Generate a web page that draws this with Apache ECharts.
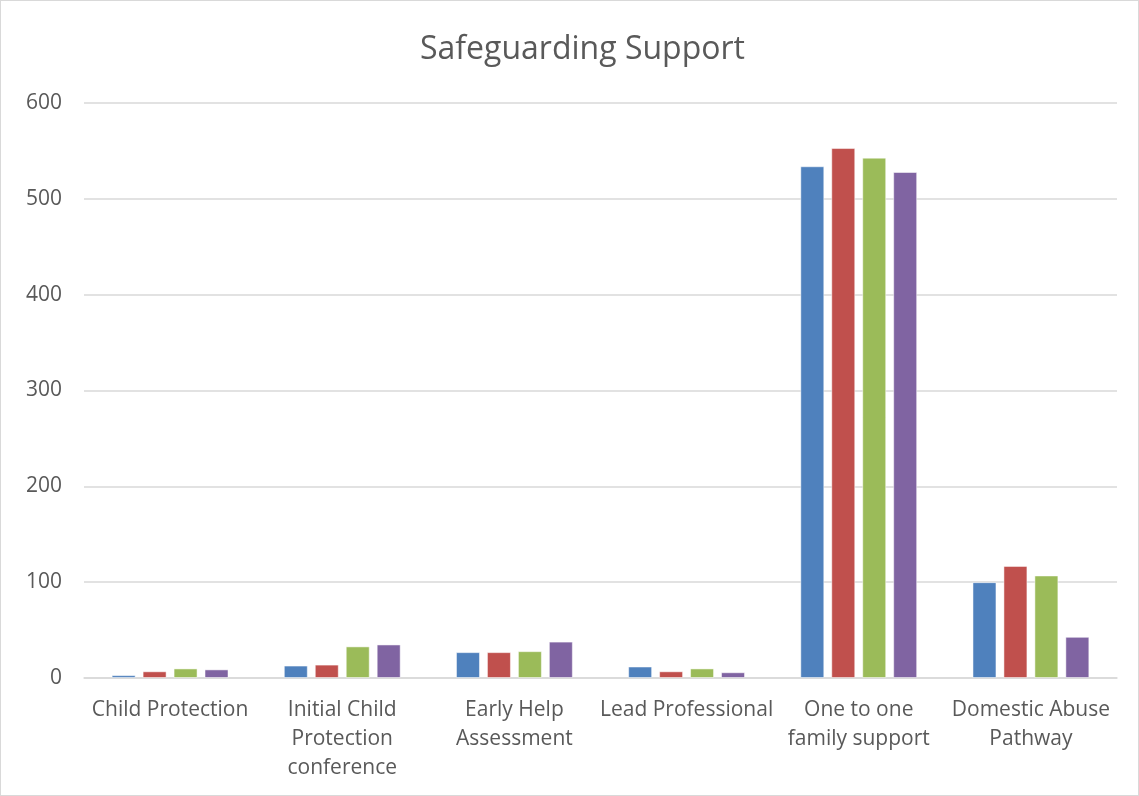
<!DOCTYPE html>
<html><head><meta charset="utf-8">
<script src="https://cdn.jsdelivr.net/npm/echarts@6/dist/echarts.min.js"></script>
<style>html,body{margin:0;padding:0;background:#fff;}#c{width:1137px;height:794px;border:1px solid #d9d9d9;}</style>
</head><body><div id="c"></div>
<script>
const categories = ["Child Protection","Initial Child\nProtection\nconference","Early Help\nAssessment","Lead Professional","One to one\nfamily support","Domestic Abuse\nPathway"];
const series1 = [3, 13, 27, 12, 534, 100];
const series2 = [7, 14, 27, 7, 553, 117];
const series3 = [10, 33, 28, 10, 543, 107];
const series4 = [9, 35, 38, 6, 528, 43];
const seriesNames = ["Series1","Series2","Series3","Series4"];
const colors = ["#4F81BD","#C0504D","#9BBB59","#8064A2"];
const chart = echarts.init(document.getElementById('c'));
const data = [series1, series2, series3, series4];
chart.setOption({
  animation:false,
  title:{text:"Safeguarding Support",left:414,top:28,textStyle:{fontFamily:'Open Sans, Calibri, sans-serif',fontSize:32,fontWeight:'normal',color:'#595959'}},
  grid:{left:83,right:21,top:102,bottom:117},
  xAxis:{type:'category',data:categories,axisTick:{show:false},
    axisLine:{lineStyle:{color:'#d9d9d9',width:1.5}},
    axisLabel:{interval:0,fontFamily:'Open Sans, Calibri, sans-serif',fontSize:21,color:'#595959',lineHeight:29,margin:18}},
  yAxis:{type:'value',min:0,max:600,interval:100,
    axisLine:{show:false},axisTick:{show:false},
    splitLine:{lineStyle:{color:'#d9d9d9',width:1.5}},
    axisLabel:{fontFamily:'Open Sans, Calibri, sans-serif',fontSize:21,color:'#595959',margin:22}},
  series:data.map((d,i)=>({name:seriesNames[i],type:'bar',data:d,barWidth:24,barGap:'29%',
    itemStyle:{color:colors[i],borderColor:'rgba(255,255,255,0.5)',borderWidth:1}}))
});
</script></body></html>
